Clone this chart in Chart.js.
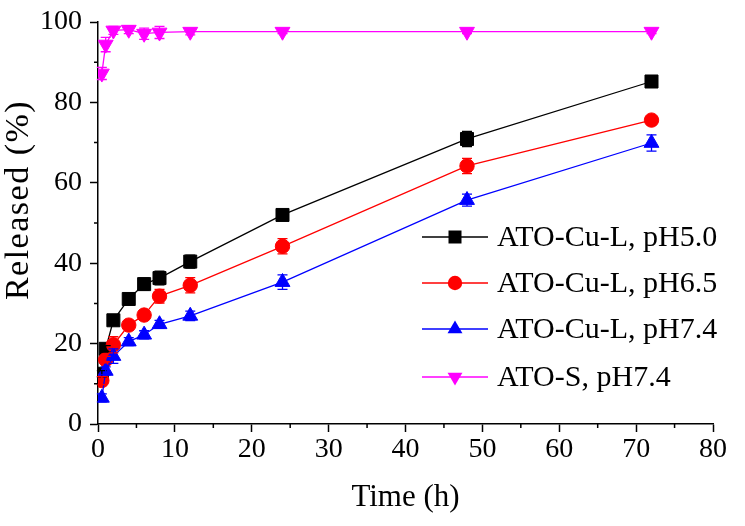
<!DOCTYPE html>
<html>
<head>
<meta charset="utf-8">
<script src="https://cdn.jsdelivr.net/npm/chart.js@4/dist/chart.umd.min.js"></script>
<style>
  html, body { margin: 0; padding: 0; background: #fff; }
  #wrap { width: 745px; height: 526px; }
</style>
</head>
<body>
<div id="wrap"><canvas id="myChart" width="745" height="526"></canvas></div>
<script>
// release data
const times = [0.5, 1, 2, 4, 6, 8, 12, 24, 48, 72];
const ph50 = [12.5, 18.7, 25.8, 31.1, 34.8, 36.3, 40.4, 52.0, 70.9, 85.2];
const ph65 = [10.8, 16.0, 19.7, 24.6, 27.1, 31.8, 34.5, 44.2, 64.2, 75.6];
const ph74 = [6.5, 13.2, 16.9, 20.5, 22.2, 24.8, 26.9, 35.3, 55.7, 69.9];
const atoS = [87.2, 94.4, 97.9, 98.1, 97.1, 97.4, 97.6, 97.6, 97.6, 97.6];

// error bars (+/-)
const err50 = [0.8, 0.8, 0.8, 1.0, 1.5, 1.7, 1.6, 0.8, 1.9, 0.6];
const err65 = [1.0, 0.8, 2.0, 0.6, 0.8, 1.7, 1.9, 1.9, 1.9, 0.6];
const err74 = [1.0, 1.0, 1.8, 1.0, 1.0, 1.0, 1.2, 1.8, 1.5, 2.0];
const errS = [1.5, 1.8, 1.0, 1.0, 1.4, 1.5, 0.8, 0.5, 0.5, 0.5];

const seriesNames = ['ATO-Cu-L, pH5.0', 'ATO-Cu-L, pH6.5', 'ATO-Cu-L, pH7.4', 'ATO-S, pH7.4'];
const xTicks = [0, 10, 20, 30, 40, 50, 60, 70, 80];
const yTicks = [0, 20, 40, 60, 80, 100];

const FONT = "'Liberation Serif', 'Times New Roman', serif";

function toPoints(ys) {
  return times.map((t, i) => ({ x: t, y: ys[i] }));
}

const styles = [
  { color: '#000000', shape: 'rect', radius: 9.2, rot: 0 },
  { color: '#ff0000', shape: 'circle', radius: 7.2, rot: 0 },
  { color: '#0000ff', shape: 'triangle', radius: 8.6, rot: 0 },
  { color: '#ff00ff', shape: 'triangle', radius: 8.6, rot: 180 }
];
const values = [ph50, ph65, ph74, atoS];
const errors = [err50, err65, err74, errS];

const datasets = values.map((v, i) => ({
  label: seriesNames[i],
  data: toPoints(v),
  showLine: true,
  borderColor: styles[i].color,
  backgroundColor: styles[i].color,
  borderWidth: 1.3,
  pointStyle: styles[i].shape,
  pointRadius: styles[i].radius,
  pointRotation: styles[i].rot,
  pointBorderWidth: 1,
  pointBorderColor: styles[i].color,
  pointBackgroundColor: styles[i].color,
  order: 4 - i
}));

// error bars, minor ticks, y title and legend
const extras = {
  id: 'extras',
  afterDatasetsDraw(chart) {
    const ctx = chart.ctx;
    const xs = chart.scales.x, ys = chart.scales.y;
    ctx.save();
    ctx.lineWidth = 1.3;
    values.forEach((v, i) => {
      ctx.strokeStyle = styles[i].color;
      v.forEach((val, j) => {
        const px = xs.getPixelForValue(times[j]);
        const top = ys.getPixelForValue(val + errors[i][j]);
        const bot = ys.getPixelForValue(val - errors[i][j]);
        ctx.beginPath();
        ctx.moveTo(px, top); ctx.lineTo(px, bot);
        ctx.moveTo(px - 5, top); ctx.lineTo(px + 5, top);
        ctx.moveTo(px - 5, bot); ctx.lineTo(px + 5, bot);
        ctx.stroke();
      });
    });
    ctx.restore();
  },
  afterDraw(chart) {
    const ctx = chart.ctx;
    const xs = chart.scales.x, ys = chart.scales.y;
    const area = chart.chartArea;
    ctx.save();
    // minor ticks
    ctx.strokeStyle = '#000';
    ctx.lineWidth = 1.5;
    ctx.beginPath();
    for (let t = 5; t < 80; t += 10) {
      const px = xs.getPixelForValue(t);
      ctx.moveTo(px, area.bottom); ctx.lineTo(px, area.bottom + 4);
    }
    for (let t = 10; t < 100; t += 20) {
      const py = ys.getPixelForValue(t);
      ctx.moveTo(area.left, py); ctx.lineTo(area.left - 4, py);
    }
    ctx.stroke();

    // y axis title
    ctx.fillStyle = '#000';
    ctx.font = '34px ' + FONT;
    ctx.translate(19, 200);
    ctx.rotate(-Math.PI / 2);
    ctx.letterSpacing = '1.5px';
    ctx.textAlign = 'center';
    ctx.textBaseline = 'middle';
    ctx.fillText('Released (%)', 0, 0);
    ctx.restore();

    // legend
    ctx.save();
    const rows = [237, 283, 329, 377];
    ctx.font = '30px ' + FONT;
    ctx.textBaseline = 'middle';
    ctx.textAlign = 'left';
    rows.forEach((ry, i) => {
      const s = styles[i];
      ctx.strokeStyle = s.color;
      ctx.fillStyle = s.color;
      ctx.lineWidth = 1.3;
      ctx.beginPath();
      ctx.moveTo(422, ry); ctx.lineTo(488, ry);
      ctx.stroke();
      const mx = 455;
      ctx.beginPath();
      if (s.shape === 'rect') {
        ctx.rect(mx - 6.5, ry - 6.5, 13, 13);
      } else if (s.shape === 'circle') {
        ctx.arc(mx, ry, s.radius, 0, Math.PI * 2);
      } else {
        const r = s.radius, d = s.rot ? -1 : 1;
        ctx.moveTo(mx, ry - d * r);
        ctx.lineTo(mx + r * 0.866, ry + d * r * 0.5);
        ctx.lineTo(mx - r * 0.866, ry + d * r * 0.5);
        ctx.closePath();
      }
      ctx.fill();
      ctx.fillStyle = '#000';
      ctx.fillText(seriesNames[i], 497, ry + 1);
    });
    ctx.restore();
  }
};

const ctx = document.getElementById('myChart').getContext('2d');
const myChart = new Chart(ctx, {
  type: 'scatter',
  data: { datasets: datasets },
  options: {
    responsive: false,
    animation: false,
    layout: { padding: { left: 0, top: 15, right: 32, bottom: 10 } },
    plugins: {
      legend: { display: false },
      tooltip: { enabled: false }
    },
    scales: {
      x: {
        type: 'linear',
        min: 0, max: 80,
        afterBuildTicks(scale) { scale.ticks = xTicks.map(v => ({ value: v })); },
        afterFit(scale) { scale.height = 92; },
        grid: { drawOnChartArea: false, drawTicks: true, tickLength: 8, tickWidth: 1.5, tickColor: '#000' },
        border: { display: true, color: '#000', width: 1.5 },
        ticks: { color: '#000', padding: 4, maxRotation: 0, font: { family: FONT, size: 28, lineHeight: 1 } },
        title: { display: true, text: 'Time (h)', color: '#000', padding: 0, font: { family: FONT, size: 31 } }
      },
      y: {
        type: 'linear',
        min: 0, max: 100,
        afterBuildTicks(scale) { scale.ticks = yTicks.map(v => ({ value: v })); },
        afterFit(scale) { scale.width = 98; },
        grid: { drawOnChartArea: false, drawTicks: true, tickLength: 8, tickWidth: 1.5, tickColor: '#000' },
        border: { display: true, color: '#000', width: 1.5 },
        ticks: { color: '#000', padding: 8, font: { family: FONT, size: 28, lineHeight: 1 } },
        title: { display: false }
      }
    }
  },
  plugins: [extras]
});
</script>
</body>
</html>
